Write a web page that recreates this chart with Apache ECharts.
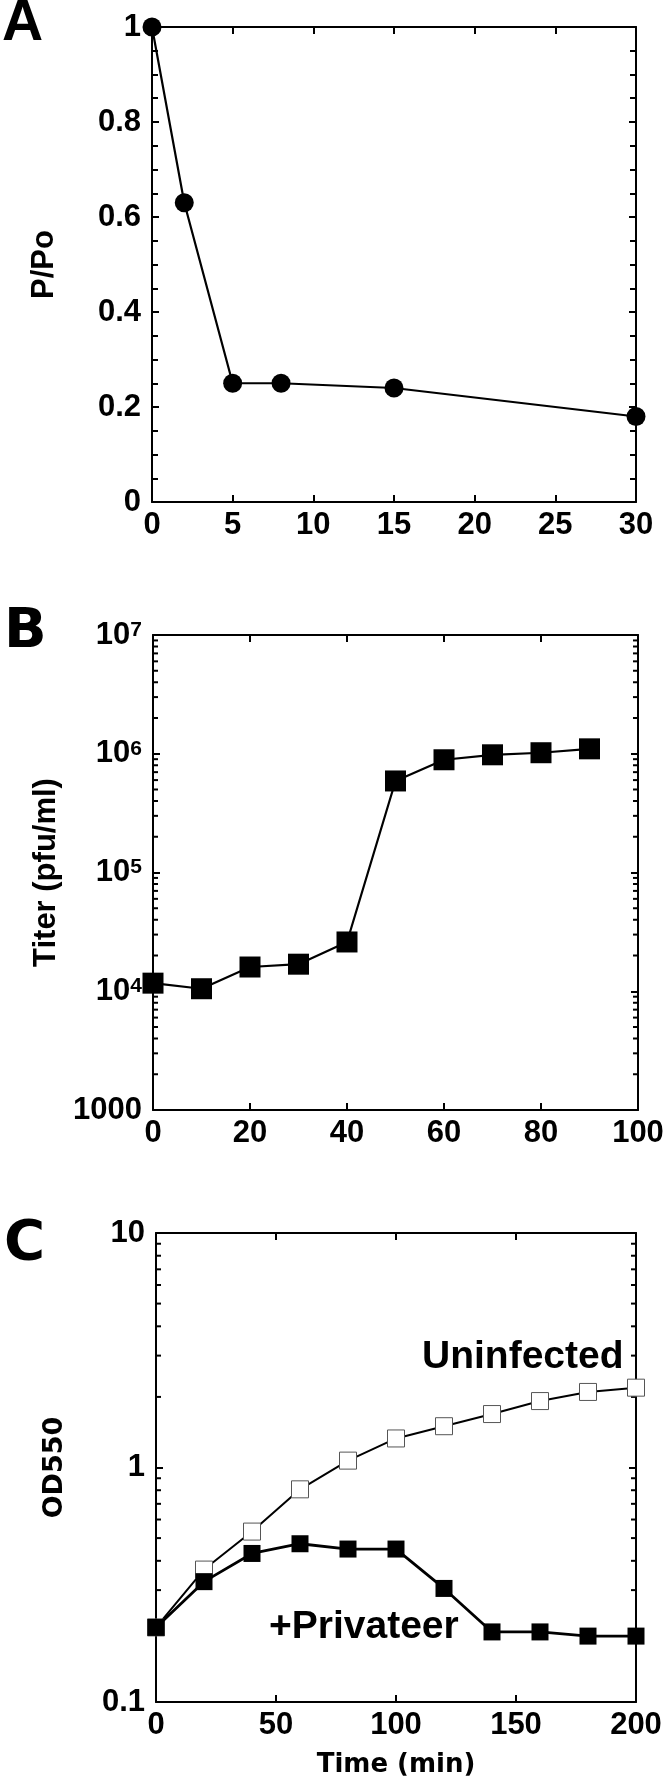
<!DOCTYPE html>
<html><head><meta charset="utf-8">
<script src="https://cdn.jsdelivr.net/npm/echarts@6/dist/echarts.min.js"></script>
<style>html,body{margin:0;padding:0;background:#fff}#c{width:667px;height:1790px}</style>
</head><body><div id="c"></div>
<script>
// ---- Panel A data ----
const timeA = [0, 2, 5, 8, 15, 30];
const ratioA = [1.0, 0.63, 0.25, 0.25, 0.24, 0.18];
// ---- Panel B data ----
const timeB = [0, 10, 20, 30, 40, 50, 60, 70, 80, 90];
const titerB = [11700, 10500, 16000, 16900, 26000, 590000, 890000, 980000, 1020000, 1100000];
const minorTicksB = [2000, 3000, 4000, 5000, 6000, 7000, 8000, 9000,
  20000, 30000, 40000, 50000, 60000, 70000, 80000, 90000,
  200000, 300000, 400000, 500000, 600000, 700000, 800000, 900000,
  2000000, 3000000, 4000000, 5000000, 6000000, 7000000, 8000000, 9000000];
// ---- Panel C data ----
const timeC = [0, 20, 40, 60, 80, 100, 120, 140, 160, 180, 200];
const uninfectedC = [0.208, 0.367, 0.533, 0.807, 1.07, 1.33, 1.50, 1.69, 1.92, 2.10, 2.19];
const privateerC = [0.208, 0.326, 0.430, 0.473, 0.449, 0.449, 0.305, 0.199, 0.199, 0.191, 0.191];
const minorTicksC = [0.2, 0.3, 0.4, 0.5, 0.6, 0.7, 0.8, 0.9, 2, 3, 4, 5, 6, 7, 8, 9];

const SANS = '"Liberation Sans", Arial, sans-serif';
const DJV = '"DejaVu Sans", sans-serif';
const zip = (a, b) => a.map((v, i) => [v, b[i]]);

const lineAxis = { show: true, lineStyle: { color: '#000', width: 2 } };
const tickStyle = { color: '#000', width: 2 };
const labelStyle = { color: '#000', fontFamily: SANS, fontWeight: 'bold', fontSize: 31 };

function xAx(gi, min, max, interval, pos, showLabel, extra) {
  return Object.assign({
    gridIndex: gi, type: 'value', min: min, max: max, interval: interval, position: pos,
    axisLine: Object.assign({ onZero: false }, lineAxis),
    axisTick: { show: true, inside: true, length: 7, lineStyle: tickStyle },
    axisLabel: showLabel ? Object.assign({ margin: 8 }, labelStyle) : { show: false },
    splitLine: { show: false }
  }, extra || {});
}
function yAx(gi, base, pos, showLabel, extra) {
  return Object.assign(base, {
    gridIndex: gi, position: pos,
    axisLine: Object.assign({ onZero: false }, lineAxis),
    axisTick: { show: true, inside: true, length: 7, lineStyle: tickStyle },
    axisLabel: showLabel ? Object.assign({ margin: 11 }, labelStyle) : { show: false },
    splitLine: { show: false }
  }, extra || {});
}

function minorTickRender(params, api) {
  const cs = params.coordSys;
  const y = api.coord([api.value(0), api.value(1)])[1];
  const len = 5;
  return { type: 'group', children: [
    { type: 'line', shape: { x1: cs.x, y1: y, x2: cs.x + len, y2: y }, style: { stroke: '#000', lineWidth: 2 } },
    { type: 'line', shape: { x1: cs.x + cs.width, y1: y, x2: cs.x + cs.width - len, y2: y }, style: { stroke: '#000', lineWidth: 2 } }
  ]};
}

const supLabel = function (v) {
  if (v <= 1000.5) return '{b|1000}';
  const e = Math.round(Math.log10(v));
  return '{b|10}{s|' + e + '}';
};

const chart = echarts.init(document.getElementById('c'), null, { renderer: 'canvas' });
chart.setOption({
  animation: false,
  backgroundColor: '#fff',
  grid: [
    { left: 152, top: 27, width: 484, height: 475 },
    { left: 153, top: 635, width: 485, height: 475 },
    { left: 156, top: 1233, width: 480, height: 469 }
  ],
  xAxis: [
    xAx(0, 0, 30, 5, 'bottom', true),
    xAx(0, 0, 30, 5, 'top', false),
    xAx(1, 0, 100, 20, 'bottom', true),
    xAx(1, 0, 100, 20, 'top', false),
    xAx(2, 0, 200, 50, 'bottom', true, {
      name: 'Time (min)', nameLocation: 'middle', nameGap: 50,
      nameTextStyle: { color: '#000', fontFamily: DJV, fontWeight: 'bold', fontSize: 26 }
    }),
    xAx(2, 0, 200, 50, 'top', false)
  ],
  yAxis: [
    yAx(0, { type: 'value', min: 0, max: 1, interval: 0.2 }, 'left', true, {
      minorTick: { show: true, splitNumber: 4, length: 6, lineStyle: tickStyle },
      name: 'P/Po', nameLocation: 'middle', nameGap: 92,
      nameTextStyle: { color: '#000', fontFamily: SANS, fontWeight: 'bold', fontSize: 31 }
    }),
    yAx(0, { type: 'value', min: 0, max: 1, interval: 0.2 }, 'right', false, {
      minorTick: { show: true, splitNumber: 4, length: 6, lineStyle: tickStyle }
    }),
    yAx(1, { type: 'log', logBase: 10, min: 1000, max: 10000000, splitNumber: 4 }, 'left', true, {
      name: 'Titer (pfu/ml)', nameLocation: 'middle', nameGap: 88,
      nameTextStyle: { color: '#000', fontFamily: SANS, fontWeight: 'bold', fontSize: 31 }
    }),
    yAx(1, { type: 'log', logBase: 10, min: 1000, max: 10000000, splitNumber: 4 }, 'right', false),
    yAx(2, { type: 'log', logBase: 10, min: 0.1, max: 10, splitNumber: 2 }, 'left', true, {
      name: 'OD550', nameLocation: 'middle', nameGap: 88,
      nameTextStyle: { color: '#000', fontFamily: DJV, fontWeight: 'bold', fontSize: 27 }
    }),
    yAx(2, { type: 'log', logBase: 10, min: 0.1, max: 10, splitNumber: 2 }, 'right', false)
  ],
  series: [
    { type: 'line', xAxisIndex: 0, yAxisIndex: 0, data: zip(timeA, ratioA),
      symbol: 'circle', symbolSize: 19, itemStyle: { color: '#000' },
      lineStyle: { color: '#000', width: 2.2 }, z: 5 },
    { type: 'line', xAxisIndex: 2, yAxisIndex: 2, data: zip(timeB, titerB),
      symbol: 'rect', symbolSize: 21, itemStyle: { color: '#000' },
      lineStyle: { color: '#000', width: 2.2 }, z: 5 },
    { type: 'line', name: 'Uninfected', xAxisIndex: 4, yAxisIndex: 4, data: zip(timeC, uninfectedC),
      symbol: 'rect', symbolSize: 17, itemStyle: { color: '#fff', borderColor: '#555', borderWidth: 1 },
      lineStyle: { color: '#000', width: 2 }, z: 5 },
    { type: 'line', name: '+Privateer', xAxisIndex: 4, yAxisIndex: 4, data: zip(timeC, privateerC),
      symbol: 'rect', symbolSize: 17, itemStyle: { color: '#000' },
      lineStyle: { color: '#000', width: 2.8 }, z: 6 },
    { type: 'custom', xAxisIndex: 2, yAxisIndex: 2, silent: true, renderItem: minorTickRender,
      data: minorTicksB.map(v => [0, v]), z: 3 },
    { type: 'custom', xAxisIndex: 4, yAxisIndex: 4, silent: true, renderItem: minorTickRender,
      data: minorTicksC.map(v => [0, v]), z: 3 }
  ],
  graphic: [
    { type: 'text', left: 2, top: -4, style: { text: 'A', fill: '#000', font: 'bold 57px ' + SANS } },
    { type: 'text', left: 4, top: 604, style: { text: 'B', fill: '#000', font: 'bold 56px ' + DJV } },
    { type: 'text', left: 4, top: 1216, style: { text: 'C', fill: '#000', font: 'bold 56px ' + DJV } },
    { type: 'text', x: 422, y: 1357, style: { text: 'Uninfected', fill: '#000', font: 'bold 39px ' + SANS, verticalAlign: 'middle' } },
    { type: 'text', x: 269, y: 1627, style: { text: '+Privateer', fill: '#000', font: 'bold 39px ' + SANS, verticalAlign: 'middle' } }
  ]
});
// superscript labels for panel B
chart.setOption({
  yAxis: [{}, {}, {
    axisLabel: {
      formatter: supLabel,
      rich: {
        b: { color: '#000', fontFamily: SANS, fontWeight: 'bold', fontSize: 31, lineHeight: 31 },
        s: { color: '#000', fontFamily: SANS, fontWeight: 'bold', fontSize: 21, lineHeight: 2, verticalAlign: 'top' }
      }
    }
  }, {}, {
    axisLabel: { formatter: function (v) { return String(Number(v.toPrecision(3))); } }
  }, {}]
});
</script>
</body></html>
